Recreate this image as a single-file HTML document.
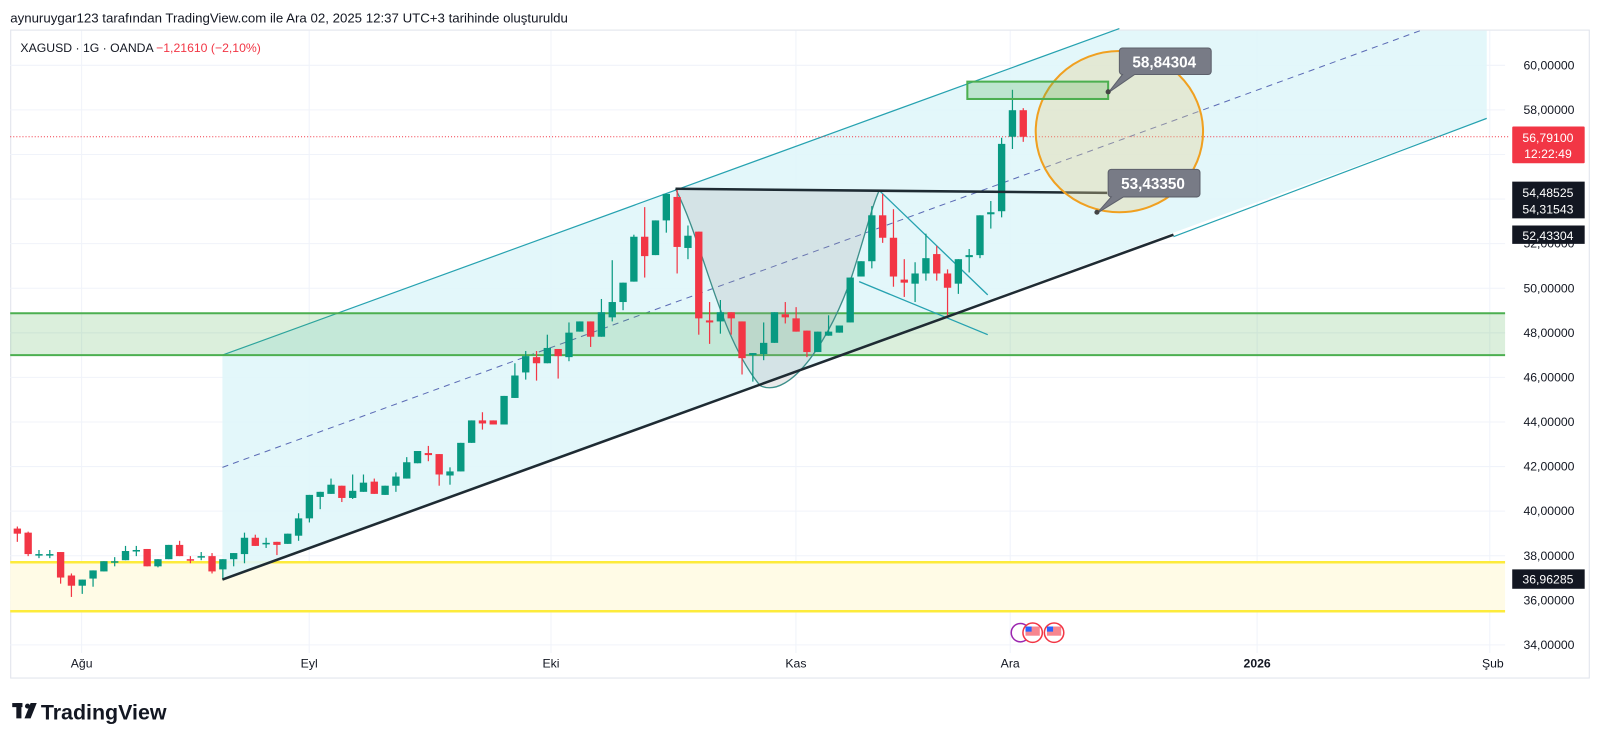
<!DOCTYPE html>
<html><head><meta charset="utf-8"><style>
html,body{margin:0;padding:0;background:#fff;width:1600px;height:745px;overflow:hidden}
svg{display:block;font-family:"Liberation Sans",sans-serif}
</style></head><body>
<svg id="s" width="1600" height="745" viewBox="0 0 1600 745" xmlns="http://www.w3.org/2000/svg">
<g transform="scale(1.0204)">
<text x="10" y="22" font-size="13" fill="#131722">aynuruygar123 tarafından TradingView.com ile Ara 02, 2025 12:37 UTC+3 tarihinde oluşturuldu</text>
<rect x="10.5" y="29.5" width="1547" height="635" fill="#fff" stroke="#e0e3eb"/>
<g id="grid" stroke="#f0f3fa" stroke-width="1"></g>
<rect x="10" y="551" width="1465" height="48" fill="#fffbe6"/>
<line x1="10" y1="551" x2="1475" y2="551" stroke="#fdeb3b" stroke-width="2.5"/>
<line x1="10" y1="599" x2="1475" y2="599" stroke="#fdeb3b" stroke-width="2.5"/>
<polygon points="218,348 1092,30 1457,30 1457,116 218,568" fill="#e0f6f9" opacity="0.9"/>
<line x1="218" y1="348" x2="1097" y2="28" stroke="#26a2b0" stroke-width="1.2"/>
<line x1="1150" y1="232" x2="1457" y2="116" stroke="#26a2b0" stroke-width="1.2"/>
<line x1="218" y1="458" x2="1392" y2="30" stroke="#5b6bb5" stroke-width="1" stroke-dasharray="6,5"/>
<rect x="10" y="307" width="1465" height="41" fill="#4caf50" fill-opacity="0.2"/>
<line x1="10" y1="307" x2="1475" y2="307" stroke="#4caf50" stroke-width="2"/>
<line x1="10" y1="348" x2="1475" y2="348" stroke="#4caf50" stroke-width="2"/>
<path d="M662,185 C690,240 705,330 745,378 C775,392 815,330 835,270 C848,230 855,200 862,186 Z" fill="#9e9e9e" fill-opacity="0.22"/>
<path d="M662,185 C690,240 705,330 745,378 C775,392 815,330 835,270 C848,230 855,200 862,186" fill="none" stroke="#3d8f8a" stroke-width="1.3"/>
<line x1="862" y1="187" x2="968" y2="289" stroke="#26a2b0" stroke-width="1.3"/>
<line x1="842" y1="276" x2="968" y2="328" stroke="#26a2b0" stroke-width="1.3"/>
<line x1="10" y1="134" x2="1480" y2="134" stroke="#f23645" stroke-width="1" stroke-dasharray="1,2"/>
<g id="candles"></g>
<line x1="218" y1="568" x2="1150" y2="230" stroke="#1e2b33" stroke-width="2.5"/>
<line x1="662" y1="185" x2="1085" y2="189" stroke="#1e2b33" stroke-width="2.5"/>
<ellipse cx="1097" cy="129" rx="82" ry="79" fill="#e2cf8e" fill-opacity="0.35" stroke="#f0a020" stroke-width="2"/>
<rect x="948" y="80" width="138" height="17" fill="#4caf50" fill-opacity="0.25" stroke="#4caf50" stroke-width="2"/>
<path d="M1100,47 h84 a3,3 0 0 1 3,3 v20 a3,3 0 0 1 -3,3 h-72 l-26,18 l14,-18 h0 a3,3 0 0 1 -3,-3 v-20 a3,3 0 0 1 3,-3z" fill="#787b86" stroke="#5d606b"/>
<text x="1141" y="66" font-size="15" font-weight="bold" fill="#fff" text-anchor="middle">58,84304</text>
<circle cx="1086" cy="90" r="2.5" fill="#444"/>
<path d="M1089,166 h84 a3,3 0 0 1 3,3 v21 a3,3 0 0 1 -3,3 h-72 l-26,16 l14,-16 a3,3 0 0 1 -3,-3 v-21 a3,3 0 0 1 3,-3z" fill="#787b86" stroke="#5d606b"/>
<text x="1130" y="185" font-size="15" font-weight="bold" fill="#fff" text-anchor="middle">53,43350</text>
<circle cx="1075" cy="208" r="2.5" fill="#444"/>
<text x="20" y="51" font-size="12" fill="#131722">XAGUSD · 1G · OANDA</text>
<text x="153" y="51" font-size="12" fill="#f23645">−1,21610 (−2,10%)</text>
<g id="ax" font-size="12" fill="#131722"></g>
<rect x="1482" y="124" width="71" height="36" fill="#f23645" rx="1"/>
<text x="1517" y="139" font-size="12" fill="#fff" text-anchor="middle">56,79100</text>
<text x="1517" y="155" font-size="12" fill="#fff" text-anchor="middle">12:22:49</text>
<rect x="1482" y="178" width="71" height="36" fill="#131722"/>
<text x="1517" y="193" font-size="12" fill="#fff" text-anchor="middle">54,48525</text>
<text x="1517" y="209" font-size="12" fill="#fff" text-anchor="middle">54,31543</text>
<rect x="1482" y="221" width="71" height="18" fill="#131722"/>
<text x="1517" y="235" font-size="12" fill="#fff" text-anchor="middle">52,43304</text>
<rect x="1482" y="558" width="71" height="19" fill="#131722"/>
<text x="1517" y="572" font-size="12" fill="#fff" text-anchor="middle">36,96285</text>
<circle cx="1000" cy="620" r="9" fill="#fff" stroke="#9c27b0" stroke-width="1.5"/>
<circle cx="1012" cy="620" r="9.5" fill="#fff" stroke="#f23645" stroke-width="1.5"/>
<rect x="1005" y="614" width="14" height="9" fill="#f23645" opacity="0.6"/><rect x="1005" y="614" width="6" height="5" fill="#2962ff"/>
<circle cx="1033" cy="620" r="9.5" fill="#fff" stroke="#f23645" stroke-width="1.5"/>
<rect x="1026" y="614" width="14" height="9" fill="#f23645" opacity="0.6"/><rect x="1026" y="614" width="6" height="5" fill="#2962ff"/>
<g font-size="12" fill="#131722" text-anchor="middle">
<text x="80" y="654">Ağu</text><text x="303" y="654">Eyl</text><text x="540" y="654">Eki</text>
<text x="780" y="654">Kas</text><text x="990" y="654">Ara</text>
<text x="1232" y="654" font-weight="bold">2026</text><text x="1463" y="654">Şub</text>
</g>
<g fill="#131722">
<rect x="12" y="689" width="10" height="4"/><rect x="16" y="689" width="5" height="15"/>
<circle cx="27" cy="692" r="2.5"/><polygon points="30,689 36,689 30,704 24,704"/>
</g>
<text x="40" y="705" font-size="21" font-weight="bold" fill="#131722">TradingView</text>
</g>
</svg>
<script>
const NS="http://www.w3.org/2000/svg";
function el(t,a,p){const e=document.createElementNS(NS,t);for(const k in a)e.setAttribute(k,a[k]);p.appendChild(e);return e;}
const g=document.getElementById('grid'),ax=document.getElementById('ax');
for(let p=34;p<=60;p+=2){const y=64+(60-p)*21.846;
 el('line',{x1:10,y1:y,x2:1475,y2:y},g);
 const t=el('text',{x:1493,y:y+4},ax);t.textContent=p+',00000';}
[80,303,540,780,990,1232,1460].forEach(x=>el('line',{x1:x,y1:30,x2:x,y2:640},g));
const D=`R 518 523 516 531
R 522 543 521 545
G 543 544 539 547
G 543 544 539 547
R 541 566 541 572
R 564 574 562 585
G 568 574 568 582
G 559 567 559 575
G 550 560 550 560
G 550 551 546 555
G 540 549 535 549
G 539 540 535 545
R 538 555 538 555
G 548 555 548 556
G 534 548 534 548
R 534 545 530 545
R 548 549 545 552
G 545 546 541 549
R 545 560 542 562
G 548 558 548 568
G 542 548 542 555
G 527 543 522 552
R 527 535 524 535
G 532 533 527 537
R 531 534 531 544
G 523 533 523 533
G 508 525 503 530
G 485 508 485 512
G 482 487 482 499
G 475 484 469 484
R 476 488 476 492
G 481 488 465 489
G 473 482 465 482
R 472 484 469 484
G 476 485 476 485
G 467 476 463 482
G 453 469 448 469
G 442 454 442 454
R 444 446 437 452
R 445 465 445 476
G 462 466 458 475
G 434 462 434 462
G 412 434 412 434
R 412 415 404 421
R 412 416 412 416
G 388 416 388 416
G 368 390 356 390
G 349 365 344 372
R 350 356 344 373
G 341 356 328 356
R 342 349 342 371
G 326 350 316 354
G 315 325 315 325
R 315 330 315 340
G 306 330 293 330
G 296 311 255 315
G 277 296 277 304
G 232 276 230 276
R 232 251 203 272
G 216 250 216 250
G 190 216 190 228
R 193 242 186 268
G 231 243 221 254
R 227 312 227 328
R 314 316 296 337
G 306 315 294 327
R 306 312 306 328
R 315 351 315 367
G 346 348 346 374
G 336 347 316 353
G 306 336 306 336
R 308 311 296 317
R 312 325 301 325
R 324 345 324 350
G 325 345 325 345
G 325 329 309 329
G 319 326 319 326
G 272 316 272 316
G 256 271 256 271
G 211 256 202 263
R 211 233 190 238
R 233 271 205 281
R 274 277 254 291
G 268 278 257 296
G 253 268 229 275
R 249 268 241 275
R 268 282 264 309
G 254 278 254 288
G 250 252 244 267
G 211 250 211 253
G 208 210 197 224
G 141 207 135 213
G 108 134 88 146
R 108 134 106 139`.trim().split('\n');
const c=document.getElementById('candles');
D.forEach((l,i)=>{const [k,a,b,h,lo]=l.split(' ');const x=17+i*10.6;const col=k=='G'?'#089981':'#f23645';
 el('line',{x1:x,y1:+h,x2:x,y2:+lo,stroke:col,'stroke-width':1.2},c);
 const bt=+a,bb=Math.max(+b,bt+1.5);
 el('rect',{x:x-3.6,y:bt,width:7.2,height:bb-bt,fill:col},c);});
</script>
</body></html>
